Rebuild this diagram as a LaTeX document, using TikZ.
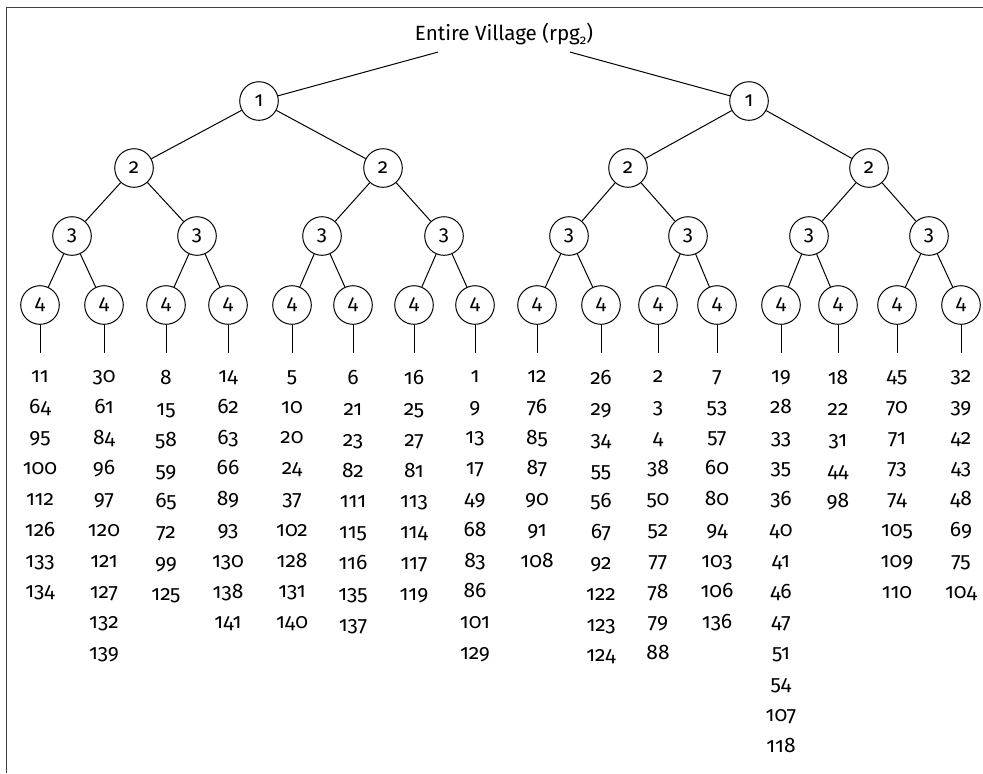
\documentclass[tikz,border=0pt]{standalone}
\usepackage{fontspec}
\setmainfont{Fira Sans}[Numbers=OldStyle]
\usetikzlibrary{positioning}

\tikzset{
  level/.style={draw, circle, minimum size=19.3pt, inner sep=0pt, font=\fontsize{10.3}{12}\selectfont},
  members/.style={align=center, inner xsep=0pt, inner ysep=8.6pt, font=\fontsize{10.5}{15.4}\selectfont},
}

\begin{document}
\begin{tikzpicture}[x=0.5pt, y=-0.5pt, line width=0.5pt]
  \useasboundingbox (0,0) rectangle (983,773);

  % frame
  \draw[black!75] (6,773) -- (6,7) -- (983,7);

  % root
  \node[font=\fontsize{10.3}{12}\selectfont] (village) at (504,34) {Entire Village (rpg\raisebox{-0.35ex}{\fontsize{6.5}{7}\selectfont 2})};

  % level 1
  \foreach \x/\n in {259/1, 749/2}
    \node[level] (a\n) at (\x,101) {1};
  \foreach \n in {1,2}
    \draw (village) -- (a\n);

  % level 2
  \foreach \x/\n in {134/1, 383/2, 628/3, 869/4}
    \node[level] (b\n) at (\x,168) {2};
  \foreach \n in {1,...,4}{
    \pgfmathtruncatemacro\p{(\n+1)/2}
    \draw (a\p) -- (b\n);
  }

  % level 3
  \foreach \x/\n in {72/1, 197/2, 322/3, 444/4, 569/5, 688/6, 809/7, 929/8}
    \node[level] (c\n) at (\x,236) {3};
  \foreach \n in {1,...,8}{
    \pgfmathtruncatemacro\p{(\n+1)/2}
    \draw (b\p) -- (c\n);
  }

  % level 4
  \foreach \x/\n in {40/1, 104/2, 166/3, 228/4, 292/5, 353/6, 414/7, 475/8,
                     537/9, 601/10, 658/11, 717/12, 781/13, 838/14, 897/15, 961/16}
    \node[level] (d\n) at (\x,305) {4};
  \foreach \n in {1,...,16}{
    \pgfmathtruncatemacro\p{(\n+1)/2}
    \draw (c\p) -- (d\n);
  }

  % households under each leaf
  \node[members, below=14pt of d1] (m1) {11\\64\\95\\100\\112\\126\\133\\134};
  \node[members, below=14pt of d2] (m2) {30\\61\\84\\96\\97\\120\\121\\127\\132\\139};
  \node[members, below=14pt of d3] (m3) {8\\15\\58\\59\\65\\72\\99\\125};
  \node[members, below=14pt of d4] (m4) {14\\62\\63\\66\\89\\93\\130\\138\\141};
  \node[members, below=14pt of d5] (m5) {5\\10\\20\\24\\37\\102\\128\\131\\140};
  \node[members, below=14pt of d6] (m6) {6\\21\\23\\82\\111\\115\\116\\135\\137};
  \node[members, below=14pt of d7] (m7) {16\\25\\27\\81\\113\\114\\117\\119};
  \node[members, below=14pt of d8] (m8) {1\\9\\13\\17\\49\\68\\83\\86\\101\\129};
  \node[members, below=14pt of d9] (m9) {12\\76\\85\\87\\90\\91\\108};
  \node[members, below=14pt of d10] (m10) {26\\29\\34\\55\\56\\67\\92\\122\\123\\124};
  \node[members, below=14pt of d11] (m11) {2\\3\\4\\38\\50\\52\\77\\78\\79\\88};
  \node[members, below=14pt of d12] (m12) {7\\53\\57\\60\\80\\94\\103\\106\\136};
  \node[members, below=14pt of d13] (m13) {19\\28\\33\\35\\36\\40\\41\\46\\47\\51\\54\\107\\118};
  \node[members, below=14pt of d14] (m14) {18\\22\\31\\44\\98};
  \node[members, below=14pt of d15] (m15) {45\\70\\71\\73\\74\\105\\109\\110};
  \node[members, below=14pt of d16] (m16) {32\\39\\42\\43\\48\\69\\75\\104};
  \foreach \n in {1,...,16}
    \draw (d\n) -- (m\n);
\end{tikzpicture}
\end{document}
